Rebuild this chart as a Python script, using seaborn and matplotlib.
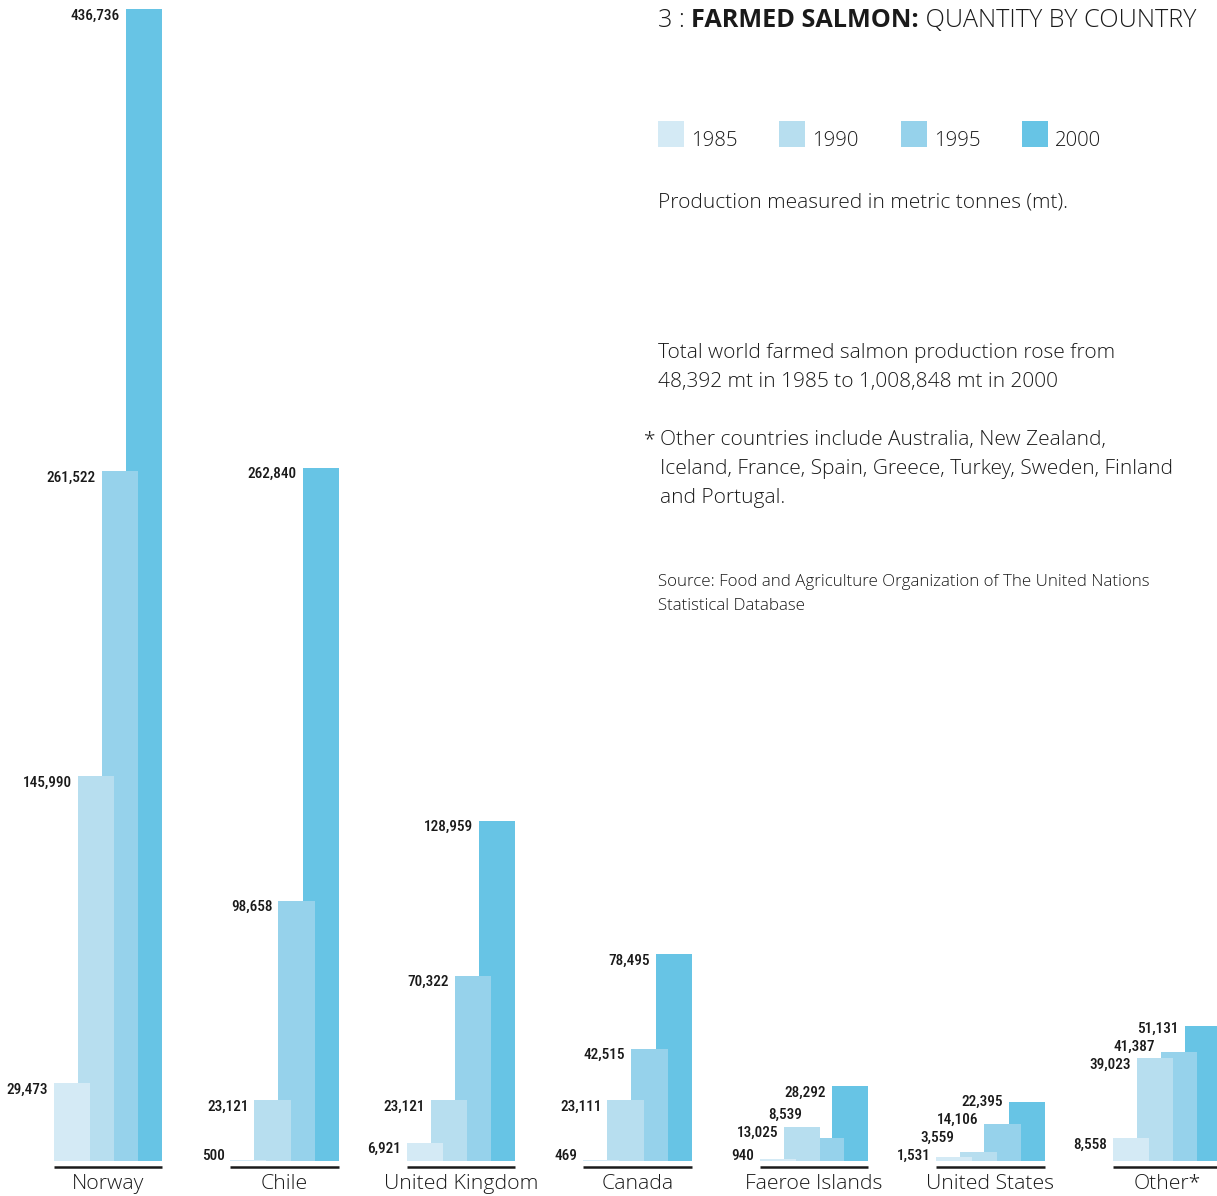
import matplotlib
matplotlib.use("Agg")
import matplotlib.pyplot as plt
from matplotlib.patches import Rectangle
import pandas as pd
import seaborn as sns

# ---- data (metric tonnes) ----
countries = ["Norway", "Chile", "United Kingdom", "Canada",
             "Faeroe Islands", "United States", "Other*"]
years = ["1985", "1990", "1995", "2000"]
tonnes_1985 = [29473, 500, 6921, 469, 940, 1531, 8558]
tonnes_1990 = [145990, 23121, 23121, 23111, 13025, 3559, 39023]
tonnes_1995 = [261522, 98658, 70322, 42515, 8539, 14106, 41387]
tonnes_2000 = [436736, 262840, 128959, 78495, 28292, 22395, 51131]
year_colors = ["#d4eaf5", "#b7deef", "#96d2eb", "#67c4e5"]

W, H, DPI = 1217, 1196, 100
INK = "#1a1a1a"
BODY = ["Open Sans", "DejaVu Sans"]
NARROW = ["Roboto Condensed", "DejaVu Sans"]

sns.set_theme(style="white")
plt.rcParams["font.family"] = BODY

df = pd.DataFrame({
    "country": countries * len(years),
    "year": [y for y in years for _ in countries],
    "tonnes": tonnes_1985 + tonnes_1990 + tonnes_1995 + tonnes_2000,
})

fig = plt.figure(figsize=(W / DPI, H / DPI), dpi=DPI)
fig.patch.set_facecolor("white")
ax = fig.add_axes([0, 0, 1, 1])

sns.barplot(data=df, x="country", y="tonnes", hue="year",
            order=countries, hue_order=years, palette=year_colors,
            saturation=1, width=0.544, gap=-0.5, errorbar=None,
            legend=False, linewidth=0, ax=ax)

# layout scale: group pitch in pixels, baseline position and vertical scale
pitch = 176.5
first_center = 108
base_px = 1161
t_per_px = 436736 / 1152
ax.set_xlim(-first_center / pitch, (W - first_center) / pitch)
ax.set_ylim(-(H - base_px) * t_per_px, base_px * t_per_px)
ax.set_axis_off()

# earlier years sit in front of later ones
for k, cont in enumerate(ax.containers):
    for bar in cont:
        bar.set_zorder(10 - k)

# baseline rule and country name under each group
for i, name in enumerate(countries):
    group = [cont[i] for cont in ax.containers]
    left = min(b.get_x() for b in group)
    right = max(b.get_x() + b.get_width() for b in group)
    ax.plot([left, right], [-5.5 * t_per_px] * 2, color=INK, lw=1.8,
            solid_capstyle="butt", zorder=20)
    ax.text((left + right) / 2, -28 * t_per_px, name, ha="center",
            va="baseline", fontsize=15.3, fontweight="light", color=INK)

# value labels to the left of each bar top, kept from colliding
base_disp = ax.transData.transform((0, 0))[1]
for i in range(len(countries)):
    prev = -1e9
    for k, cont in enumerate(ax.containers):
        bar = cont[i]
        val = bar.get_height()
        top_disp = ax.transData.transform((0, val))[1]
        centre = max(top_disp - 6.5, base_disp + 5, prev + 18)
        prev = centre
        ax.annotate(f"{int(round(val)):,}", xy=(bar.get_x(), val),
                    xytext=(-6, centre - top_disp), textcoords="offset pixels",
                    ha="right", va="center", fontsize=11,
                    family=NARROW, fontweight="medium", color=INK, zorder=30)


def fx(x):
    return x / W


def fy(y):
    return 1 - y / H


# title built from three runs of text
renderer = fig.canvas.get_renderer()
x = 658
for txt, wt in [("3 : ", "light"), ("FARMED SALMON:", "bold"),
                (" QUANTITY BY COUNTRY", "light")]:
    t = fig.text(fx(x), fy(27), txt, fontsize=18.2, fontweight=wt,
                 color=INK, ha="left", va="baseline")
    bb = t.get_window_extent(renderer=renderer)
    x += bb.width

# legend
for j, (yr, col) in enumerate(zip(years, year_colors)):
    lx = 658 + j * 121.3
    fig.add_artist(Rectangle((fx(lx), fy(147)), 26 / W, 26 / H,
                             transform=fig.transFigure, color=col, lw=0))
    fig.text(fx(lx + 33), fy(146), yr, fontsize=14.7, fontweight="light",
             color=INK, ha="left", va="baseline")

body = dict(fontsize=15, fontweight="light", color=INK,
            ha="left", va="baseline")
fig.text(fx(658), fy(208), "Production measured in metric tonnes (mt).", **body)
fig.text(fx(658), fy(358), "Total world farmed salmon production rose from", **body)
fig.text(fx(658), fy(387), "48,392 mt in 1985 to 1,008,848 mt in 2000", **body)
fig.text(fx(644), fy(445), "*", **body)
fig.text(fx(660), fy(445), "Other countries include Australia, New Zealand,", **body)
fig.text(fx(660), fy(474), "Iceland, France, Spain, Greece, Turkey, Sweden, Finland", **body)
fig.text(fx(660), fy(503), "and Portugal.", **body)

src = dict(fontsize=12.2, fontweight="light", color=INK, ha="left", va="baseline")
fig.text(fx(658), fy(586), "Source: Food and Agriculture Organization of The United Nations", **src)
fig.text(fx(658), fy(610), "Statistical Database", **src)

fig.savefig("out.png", dpi=DPI, facecolor="white")
